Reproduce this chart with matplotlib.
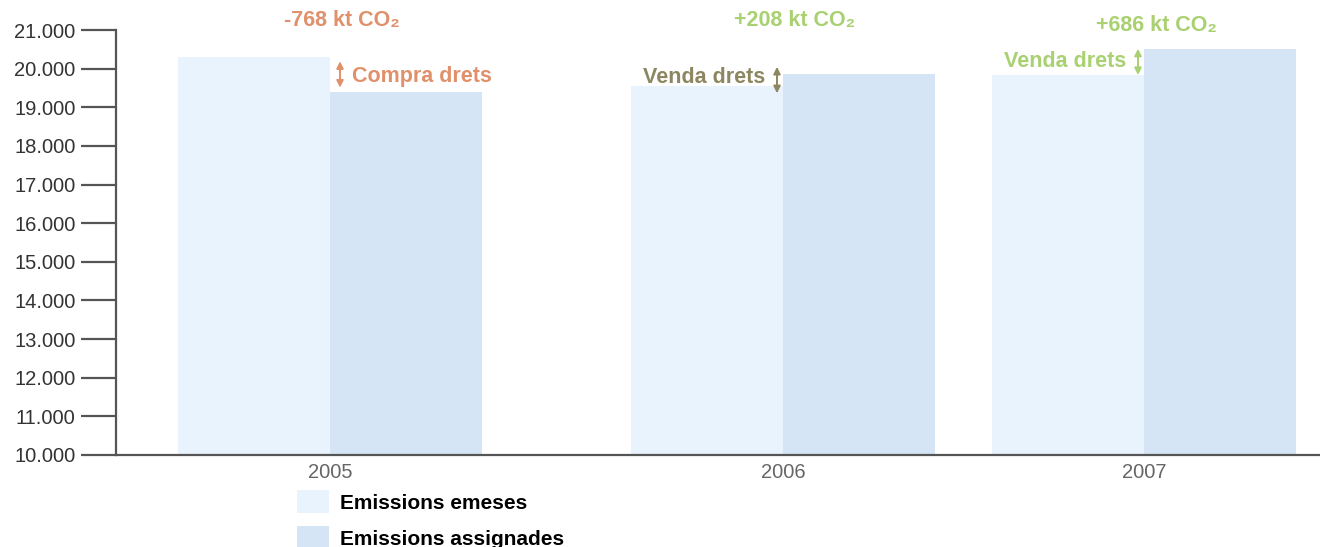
import numpy as np
import matplotlib
matplotlib.use("Agg")
import matplotlib.pyplot as plt
from matplotlib.patches import Patch
from matplotlib.ticker import FuncFormatter
from matplotlib.transforms import offset_copy

plt.rcParams['font.family'] = ['Liberation Sans', 'DejaVu Sans']

# data (kt CO2)
years = ['2005', '2006', '2007']
emeses = [20300, 19550, 19840]
assignades = [19400, 19860, 20510]
balance = ['-768 kt CO\u2082', '+208 kt CO\u2082', '+686 kt CO\u2082']
side_labels = ['Compra drets', 'Venda drets', 'Venda drets']

# layout (group centres in the axes' pixel-like x units)
centres = [330, 783, 1144]
bar_w = 152
col_emeses = '#e9f3fd'
col_assign = '#d5e5f6'
col_balance = ['#e0906a', '#a9d071', '#a9d071']
col_side = ['#e0906a', '#8c8760', '#a9d071']
axis_col = '#555555'

fig = plt.figure(figsize=(13.2, 5.47), dpi=100)
ax = fig.add_axes([116 / 1320, 1 - 455 / 547, 1 - 116 / 1320, 425 / 547])

x = np.array(centres, dtype=float)
ax.bar(x - bar_w / 2, np.array(emeses) - 10000, bar_w, bottom=10000, color=col_emeses, zorder=1)
ax.bar(x + bar_w / 2, np.array(assignades) - 10000, bar_w, bottom=10000, color=col_assign, zorder=1)

ax.set_xlim(116, 1320)
ax.set_ylim(10000, 21000)
ax.set_yticks(np.arange(10000, 21001, 1000))
ax.yaxis.set_major_formatter(FuncFormatter(lambda v, p: f'{int(v):,}'.replace(',', '.')))
ax.set_xticks(x)
ax.set_xticklabels(years)

for s in ['top', 'right']:
    ax.spines[s].set_visible(False)
for s in ['left', 'bottom']:
    ax.spines[s].set_color(axis_col)
    ax.spines[s].set_linewidth(1.6)
ax.tick_params(axis='y', direction='out', length=25, width=1.6, color=axis_col,
               labelsize=14.5, labelcolor='#333333', pad=4)
ax.tick_params(axis='x', length=0, labelsize=14.5, labelcolor='#666666', pad=6)

# balance labels on top
top_y = [21240, 21240, 21120]
for xc, txt, c, ty in zip(x, balance, col_balance, top_y):
    ax.text(xc + 12, ty, txt, ha='center', va='center', fontsize=15.5, fontweight='bold',
            color=c, clip_on=False)

# arrows (fixed size, centred between the two bar tops) and side labels
up = offset_copy(ax.transData, fig=fig, y=9.5, units='points')
dn = offset_copy(ax.transData, fig=fig, y=-9.5, units='points')
for i, xc in enumerate(x):
    lo, hi = emeses[i], assignades[i]
    mid = (lo + hi) / 2
    if i == 0:
        ax_x = xc + 10
        ax.text(ax_x + 12, mid - 60, side_labels[i], ha='left', va='center', fontsize=15.5,
                fontweight='bold', color=col_side[i])
    else:
        ax_x = xc - 6
        ax.text(ax_x - 12, mid + 60 if i == 1 else mid, side_labels[i], ha='right', va='center',
                fontsize=15.5, fontweight='bold', color=col_side[i])
    ax.annotate('', xy=(ax_x, mid), xycoords=up, xytext=(ax_x, mid), textcoords=dn,
                arrowprops=dict(arrowstyle='<|-|>', color=col_side[i], lw=1.4,
                                mutation_scale=10, shrinkA=0, shrinkB=0))

handles = [Patch(facecolor=col_emeses, label='Emissions emeses'),
           Patch(facecolor=col_assign, label='Emissions assignades')]
fig.legend(handles=handles, loc='upper left', bbox_to_anchor=(297 / 1320, 1 - 490 / 547),
           frameon=False, prop={'size': 15, 'weight': 'bold'}, handlelength=1.55,
           handleheight=1.35, handletextpad=0.5, labelspacing=0.6, borderpad=0,
           borderaxespad=0)

fig.savefig('out.png', dpi=100)
